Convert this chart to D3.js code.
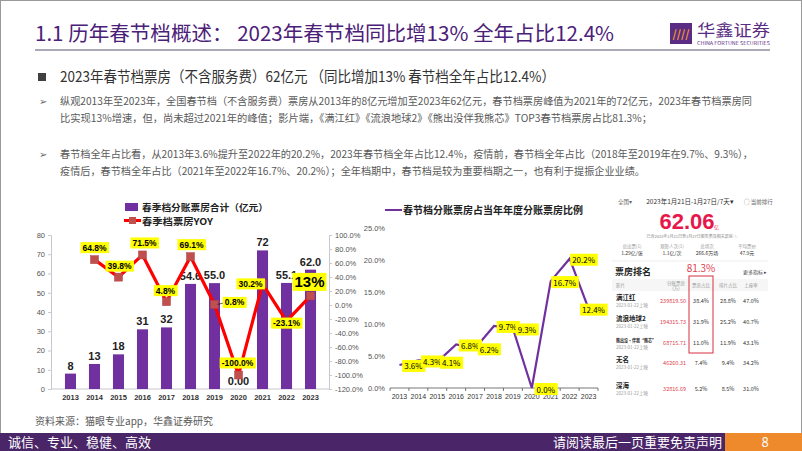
<!DOCTYPE html>
<html><head><meta charset="utf-8">
<script src="https://cdn.jsdelivr.net/npm/d3@7"></script>
<style>body{margin:0;background:#fff}svg{display:block}text{font-family:"Noto Sans CJK SC","Noto Sans",sans-serif}</style>
</head><body><svg id="c" width="802" height="451"></svg>
<script>
// ---------- data ----------
const years = ["2013","2014","2015","2016","2017","2018","2019","2020","2021","2022","2023"];
const boxOffice = [8,13,18,31,32,54.6,55.0,0,72,55.1,62.0];
const boxOfficeLabels = ["8","13","18","31","32","54.6","55.0","0.00","72","55.1","62.0"];
const yoyYears = ["2014","2015","2016","2017","2018","2019","2020","2021","2022","2023"];
const yoy = [64.8,39.8,71.5,4.8,69.1,0.8,-100,30.2,-23.1,13];
const yoyLabels = ["64.8%","39.8%","71.5%","4.8%","69.1%","0.8%","-100.0%","30.2%","-23.1%","13%"];
const share = [3.6,4.3,4.1,6.8,6.2,9.7,9.3,0.0,16.7,20.2,12.4];
const leftTicks = [0,10,20,30,40,50,60,70,80];
const rightTicks = [-120,-100,-80,-60,-40,-20,0,20,40,60,80,100];
const shareTicks = [0,5,10,15,20,25];
const films = ["满江红","流浪地球2","熊出没·伴我“熊芯”","无名","深海"];
const filmGross = ["239819.50","194315.73","68715.71","46260.31","32816.69"];
const filmShare = ["38.4%","31.9%","11.0%","7.4%","5.2%"];
const filmShows = ["28.8%","25.2%","11.9%","9.4%","8.5%"];
const filmOcc = ["47.0%","40.7%","43.1%","34.2%","31.0%"];

const svg = d3.select("#c");
const PURPLE = "#7030A0";

function tag(g, x, y, txt, size, opts={}) {
  const t = g.append("text").attr("x", x).attr("y", y).attr("text-anchor","middle")
    .attr("dominant-baseline","central").attr("font-size", size)
    .attr("font-weight", opts.weight || "bold").attr("fill","#000")
    .style("font-family", opts.family || "Arial, 'Liberation Sans', sans-serif").text(txt);
  const b = t.node().getBBox();
  g.insert("rect", () => t.node()).attr("x", b.x-2).attr("y", b.y-0.5)
    .attr("width", b.width+4).attr("height", b.height+1).attr("fill","#FFFF00");
  return t;
}

// ---------- frame / header ----------
svg.append("rect").attr("x",0.5).attr("y",0.5).attr("width",801).attr("height",450)
  .attr("fill","#fff").attr("stroke","#9a9a9a");
svg.append("text").attr("x",35).attr("y",41).attr("font-size",20).attr("fill","#4B2079")
  .attr("textLength",579).attr("lengthAdjust","spacingAndGlyphs")
  .text("1.1 历年春节档概述：  2023年春节档同比增13% 全年占比12.4%");
svg.append("line").attr("x1",35).attr("x2",770).attr("y1",50).attr("y2",50)
  .attr("stroke","#A9A9B8").attr("stroke-width",2);
// logo
svg.append("rect").attr("x",670).attr("y",23).attr("width",22).attr("height",21).attr("fill","#5B2C83");
svg.append("text").attr("x",681).attr("y",38).attr("text-anchor","middle").attr("font-size",11)
  .attr("font-weight","bold").attr("fill","#F29A2E").text("////");
svg.append("text").attr("x",697).attr("y",36).attr("font-size",16).attr("fill","#5B2C83")
  .attr("textLength",73).attr("lengthAdjust","spacingAndGlyphs").text("华鑫证券");
svg.append("text").attr("x",697).attr("y",44.5).attr("font-size",4.5).attr("fill","#5B2C83")
  .attr("textLength",73).attr("lengthAdjust","spacingAndGlyphs").text("CHINA FORTUNE SECURITIES");

// ---------- text block ----------
svg.append("rect").attr("x",38).attr("y",73).attr("width",8).attr("height",8).attr("fill","#404040");
svg.append("text").attr("x",60).attr("y",82).attr("font-size",15).attr("fill","#333")
  .attr("textLength",495).attr("lengthAdjust","spacingAndGlyphs")
  .text("2023年春节档票房（不含服务费）62亿元 （同比增加13% 春节档全年占比12.4%）");
const lines = [
  {y:105, w:692, t:"纵观2013年至2023年，全国春节档（不含服务费）票房从2013年的8亿元增加至2023年62亿元，春节档票房峰值为2021年的72亿元，2023年春节档票房同", b:true},
  {y:122, w:592, t:"比实现13%增速，但，尚未超过2021年的峰值；影片端，《满江红》《流浪地球2》《熊出没伴我熊芯》TOP3春节档票房占比81.3%；"},
  {y:158, w:693, t:"春节档全年占比看，从2013年3.6%提升至2022年的20.2%，2023年春节档全年占比12.4%，疫情前，春节档全年占比（2018年至2019年在9.7%、9.3%），", b:true},
  {y:175, w:585, t:"疫情后，春节档全年占比（2021年至2022年16.7%、20.2%）；全年档期中，春节档是较为重要档期之一，也有利于提振企业业绩。"}
];
lines.forEach(l => {
  if (l.b) svg.append("text").attr("x",39).attr("y",l.y).attr("font-size",10).attr("fill","#666").text("➢");
  svg.append("text").attr("x",60).attr("y",l.y).attr("font-size",10.5).attr("fill","#595959")
    .attr("textLength",l.w).attr("lengthAdjust","spacingAndGlyphs").text(l.t);
});

// ---------- left chart ----------
const gL = svg.append("g");
const x = d3.scaleBand().domain(years).range([52,329]).padding(0.54);
const yL = d3.scaleLinear().domain([0,80]).range([389,235]);
const yR = d3.scaleLinear().domain([-120,100]).range([389,235]);
const cx = d => x(d) + x.bandwidth()/2;

const axL = gL.append("g").attr("transform","translate(51,0)")
  .call(d3.axisLeft(yL).tickValues(leftTicks).tickSize(3).tickPadding(3));
const axR = gL.append("g").attr("transform","translate(329,0)")
  .call(d3.axisRight(yR).tickValues(rightTicks).tickSize(3).tickPadding(3).tickFormat(d => d.toFixed(1)+"%"));
[axL, axR].forEach(a => {
  a.select(".domain").attr("stroke","#c8c8d0");
  a.selectAll(".tick line").attr("stroke","#c8c8d0");
  a.selectAll("text").attr("font-size",7.5).attr("fill","#555").style("font-family","Arial, 'Liberation Sans', sans-serif");
});
gL.append("line").attr("x1",51).attr("x2",329).attr("y1",389).attr("y2",389).attr("stroke","#c8c8d0");
gL.selectAll(".yr").data(years).join("text").attr("x",d=>cx(d)).attr("y",400).attr("text-anchor","middle")
  .attr("font-size",7.5).attr("font-weight","bold").attr("fill","#333")
  .style("font-family","Arial, 'Liberation Sans', sans-serif").text(d=>d);

gL.selectAll(".bar").data(years).join("rect").attr("x",d=>x(d)).attr("width",x.bandwidth())
  .attr("y",(d,i)=>yL(boxOffice[i])).attr("height",(d,i)=>yL(0)-yL(boxOffice[i])).attr("fill",PURPLE);
gL.selectAll(".bl").data(years).join("text").attr("x",d=>cx(d)).attr("y",(d,i)=>yL(boxOffice[i])-4)
  .attr("text-anchor","middle").attr("font-size",11).attr("font-weight","bold").attr("fill","#222")
  .style("font-family","Arial, 'Liberation Sans', sans-serif").text((d,i)=>boxOfficeLabels[i]);

const line = d3.line().x((d,i)=>cx(yoyYears[i])).y(d=>yR(d));
gL.append("path").datum(yoy).attr("d",line).attr("fill","none").attr("stroke","#FF0000").attr("stroke-width",3.2);
gL.selectAll(".mk").data(yoy).join("rect").attr("x",(d,i)=>cx(yoyYears[i])-4).attr("y",d=>yR(d)-4)
  .attr("width",8).attr("height",8).attr("fill","#C0504D").attr("stroke","#b04040").attr("stroke-width",0.5);
const yoyOff = [[0,-12],[1,-11],[2,-12],[-1,-11],[1,-12],[20,-2],[-1,-12],[-12,0],[0,2],[-1,-14]];
gL.append("line").attr("x1",cx("2019")+3).attr("y1",yR(0.8)).attr("x2",cx("2019")+11).attr("y2",yR(0.8)-2).attr("stroke","#000").attr("stroke-width",0.6);
yoy.forEach((v,i) => {
  const big = i === yoy.length-1;
  tag(gL, cx(yoyYears[i])+yoyOff[i][0], yR(v)+yoyOff[i][1], yoyLabels[i], big?15:8.5);
});
// legend
gL.append("rect").attr("x",125).attr("y",203).attr("width",13).attr("height",8).attr("fill",PURPLE);
gL.append("text").attr("x",142).attr("y",210.5).attr("font-size",9.5).attr("font-weight","bold").attr("fill","#222")
  .attr("textLength",126).attr("lengthAdjust","spacingAndGlyphs").text("春季档分账票房合计（亿元）");
gL.append("line").attr("x1",124).attr("x2",141).attr("y1",220.5).attr("y2",220.5).attr("stroke","#FF0000").attr("stroke-width",3);
gL.append("rect").attr("x",129).attr("y",217).attr("width",7).attr("height",7).attr("fill","#C0504D");
gL.append("text").attr("x",142).attr("y",224.5).attr("font-size",9.5).attr("font-weight","bold").attr("fill","#222")
  .attr("textLength",71).attr("lengthAdjust","spacingAndGlyphs").text("春季档票房YOY");

// ---------- right chart ----------
const gR = svg.append("g");
const x2 = d3.scaleBand().domain(years).range([390,598]);
const y2 = d3.scaleLinear().domain([0,25]).range([388,228]);
const cx2 = d => x2(d) + x2.bandwidth()/2;
const ax2 = gR.append("g").attr("transform","translate(385,0)")
  .call(d3.axisLeft(y2).tickValues(shareTicks).tickSize(0).tickPadding(0).tickFormat(d=>d.toFixed(1)+"%"));
ax2.select(".domain").remove();
ax2.selectAll("text").attr("font-size",7.5).attr("fill","#555").style("font-family","Arial, 'Liberation Sans', sans-serif");
gR.append("line").attr("x1",390).attr("x2",598).attr("y1",388).attr("y2",388).attr("stroke","#555").attr("stroke-width",0.8);
gR.selectAll(".tk").data(years.concat(["end"])).join("line")
  .attr("x1",(d,i)=>390+i*x2.bandwidth()).attr("x2",(d,i)=>390+i*x2.bandwidth())
  .attr("y1",388).attr("y2",391).attr("stroke","#555").attr("stroke-width",0.8);
gR.selectAll(".yr2").data(years).join("text").attr("x",d=>cx2(d)).attr("y",399).attr("text-anchor","middle")
  .attr("font-size",7).attr("fill","#333").style("font-family","Arial, 'Liberation Sans', sans-serif").text(d=>d);
const line2 = d3.line().x((d,i)=>cx2(years[i])).y(d=>y2(d));
gR.append("path").datum(share).attr("d",line2).attr("fill","none").attr("stroke",PURPLE).attr("stroke-width",2.2);
share.forEach((v,i) => {
  const dx = i === share.length-1 ? 5 : 14;
  tag(gR, cx2(years[i])+dx, y2(v)+1, v.toFixed(1)+"%", 8, {weight:"normal", family:"'Noto Sans CJK SC', sans-serif"});
});
gR.append("line").attr("x1",385).attr("x2",402).attr("y1",210).attr("y2",210).attr("stroke",PURPLE).attr("stroke-width",2);
gR.append("text").attr("x",403).attr("y",214).attr("font-size",10.5).attr("font-weight","bold").attr("fill","#222")
  .attr("textLength",180).attr("lengthAdjust","spacingAndGlyphs").text("春节档分账票房占当年年度分账票房比例");

// ---------- app screenshot ----------
const gS = svg.append("g");
const sm = (xx,yy,t,s,c,anchor,w) => gS.append("text").attr("x",xx).attr("y",yy).attr("font-size",s)
  .attr("fill",c||"#555").attr("text-anchor",anchor||"start").attr("font-weight",w||"normal").text(t);
sm(618,204,"全国▾",5.5,"#666");
sm(690,204,"2023年1月21日-1月27日/7天▾",6.5,"#333","middle");
sm(744,204,"◯ 当前排行",5.5,"#666");
gS.append("text").attr("x",687).attr("y",229).attr("text-anchor","middle").attr("font-size",22).attr("font-weight","bold")
  .attr("fill","#E8174B").style("font-family","Arial, 'Liberation Sans', sans-serif").text("62.06");
sm(714,229,"亿",5,"#E8174B");
sm(692,238,"已含2023年1月21日至1月27日服务费及相关票房 ⓘ",4,"#888","middle");
[["总出票(1)","1.29亿/张",632],["观影人次(1)","1.1亿/次",672],["总场次","266.6万场",707],["平均票价","47.9元",747]].forEach(s=>{
  sm(s[2],248,s[0],4.5,"#999","middle"); sm(s[2],255,s[1],5,"#333","middle");
});
gS.append("line").attr("x1",612).attr("x2",768).attr("y1",261).attr("y2",261).attr("stroke","#eee");
sm(615,275,"票房排名",9,"#222","start","bold");
sm(701,272,"81.3%",10,"#E04050","middle");
sm(743,274,"更多指标 ▸",5,"#444");
gS.append("rect").attr("x",612).attr("y",279).attr("width",156).attr("height",12).attr("fill","#f6f6f6");
sm(616,287,"影片",4.5,"#999"); sm(676,285,"分账票房",4.5,"#999","middle"); sm(676,290,"(万)",4.5,"#999","middle");
sm(701,287,"票房占比",4.5,"#999","middle"); sm(728,287,"排片占比",4.5,"#999","middle"); sm(751,287,"上座率",4.5,"#999","middle");
const rowY = [300,321,342,362,388];
films.forEach((f,i)=>{
  const ry = rowY[i];
  const t = sm(616,ry,f,6.5,"#222","start","bold");
  if (f.length > 6) t.attr("font-size",5).attr("textLength",40).attr("lengthAdjust","spacingAndGlyphs");
  sm(616,ry+7,"2023-01-22上映",4.5,"#999");
  sm(686,ry+3,filmGross[i],5.5,"#E04050","end");
  sm(701,ry+3,filmShare[i],5.5,"#333","middle");
  sm(728,ry+3,filmShows[i],5.5,"#333","middle");
  sm(751,ry+3,filmOcc[i],5.5,"#333","middle");
});
gS.append("rect").attr("x",689).attr("y",276).attr("width",24).attr("height",77).attr("fill","none")
  .attr("stroke","#D83040").attr("stroke-width",1);

// ---------- footer ----------
svg.append("text").attr("x",35).attr("y",425).attr("font-size",10).attr("fill","#595959").text("资料来源：猫眼专业app，华鑫证券研究");
svg.append("rect").attr("x",0).attr("y",433).attr("width",725).attr("height",18).attr("fill","#4A2568");
svg.append("rect").attr("x",725).attr("y",433).attr("width",77).attr("height",18).attr("fill","#EE8A2C");
svg.append("text").attr("x",8).attr("y",447).attr("font-size",13).attr("fill","#fff").text("诚信、专业、稳健、高效");
svg.append("text").attr("x",722).attr("y",447).attr("text-anchor","end").attr("font-size",13).attr("fill","#fff").text("请阅读最后一页重要免责声明");
svg.append("text").attr("x",765).attr("y",447).attr("text-anchor","middle").attr("font-size",13).attr("fill","#fff").text("8");
</script></body></html>
